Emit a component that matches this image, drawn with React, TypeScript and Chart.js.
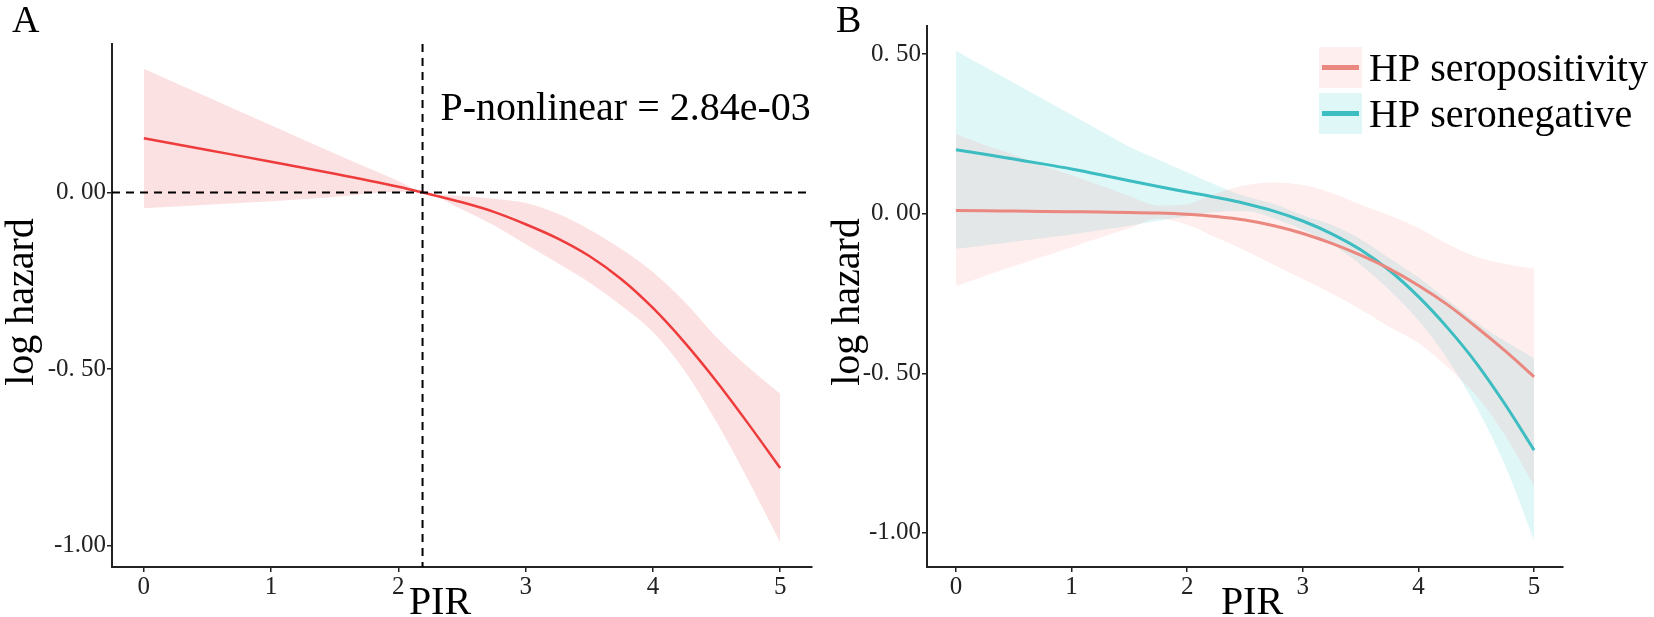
import React, { useEffect, useRef } from 'react';
import { Chart, registerables } from 'chart.js';

Chart.register(...registerables);

// ---- data ----
const pirA = [0, 0.5, 1, 1.5, 2, 2.19, 2.5, 2.75, 3, 3.25, 3.5, 3.75, 4, 4.25, 4.5, 4.75, 5];
const overallLine = [0.153, 0.12, 0.087, 0.053, 0.016, 0, -0.028, -0.055, -0.09, -0.13, -0.18, -0.245, -0.327, -0.425, -0.535, -0.655, -0.78];
const overallUpper = [0.35, 0.27, 0.19, 0.11, 0.032, 0, -0.01, -0.018, -0.03, -0.06, -0.105, -0.16, -0.225, -0.31, -0.41, -0.495, -0.57];
const overallLower = [-0.045, -0.035, -0.025, -0.013, 0.002, 0, -0.048, -0.093, -0.147, -0.2, -0.255, -0.32, -0.395, -0.505, -0.65, -0.815, -0.99];

const pirB = [0, 0.25, 0.5, 0.75, 1, 1.25, 1.5, 1.75, 2, 2.25, 2.5, 2.75, 3, 3.25, 3.5, 3.75, 4, 4.25, 4.5, 4.75, 5];
const posLine = [0.01, 0.009, 0.008, 0.007, 0.006, 0.005, 0.004, 0.002, -0.002, -0.009, -0.02, -0.038, -0.062, -0.093, -0.13, -0.173, -0.225, -0.285, -0.355, -0.43, -0.511];
const posUpper = [0.25, 0.215, 0.185, 0.15, 0.12, 0.088, 0.055, 0.025, 0.03, 0.063, 0.089, 0.098, 0.09, 0.065, 0.028, -0.005, -0.045, -0.095, -0.135, -0.158, -0.172];
const posLower = [-0.227, -0.195, -0.165, -0.135, -0.105, -0.075, -0.045, -0.015, -0.035, -0.075, -0.115, -0.16, -0.205, -0.25, -0.3, -0.355, -0.405, -0.48, -0.57, -0.695, -0.852];
const negLine = [0.2, 0.186, 0.171, 0.156, 0.14, 0.122, 0.103, 0.085, 0.068, 0.051, 0.032, 0.008, -0.023, -0.063, -0.113, -0.178, -0.26, -0.357, -0.468, -0.598, -0.741];
const negUpper = [0.511, 0.46, 0.41, 0.36, 0.31, 0.26, 0.21, 0.17, 0.13, 0.09, 0.055, 0.03, -0.005, -0.035, -0.08, -0.14, -0.2, -0.27, -0.34, -0.4, -0.453];
const negLower = [-0.11, -0.1, -0.088, -0.077, -0.065, -0.052, -0.038, -0.022, -0.008, 0.005, 0.008, -0.015, -0.05, -0.095, -0.16, -0.24, -0.335, -0.455, -0.605, -0.79, -1.024];

const xTicks = [0, 1, 2, 3, 4, 5];
const xTickLabels = ['0', '1', '2', '3', '4', '5'];
const aYTicks = [0, -0.5, -1];
const aYTickLabels = ['0. 00', '-0. 50', '-1.00'];
const bYTicks = [0.5, 0, -0.5, -1];
const bYTickLabels = ['0. 50', '0. 00', '-0. 50', '-1.00'];
const seriesNames = ['HP seropositivity', 'HP seronegative'];
const cutPoint = 2.19;
const pNonlinear = 'P-nonlinear = 2.84e-03';
const xTitle = 'PIR';
const yTitle = 'log hazard';

const serif = '"Liberation Serif", "Times New Roman", serif';
const H = 617;
const lineColors = ['#EA8880', '#3BBDC1'];
const bandColors = ['rgba(248,118,109,0.12)', 'rgba(0,191,196,0.12)'];

const pts = (xs: number[], ys: number[]) => xs.map((x, i) => ({ x, y: ys[i] }));

const lineDs = (data: any, color: string, width: number) => ({
  data, borderColor: color, borderWidth: width, pointRadius: 0, fill: false,
  cubicInterpolationMode: 'monotone',
});
const bandDs = (data: any, color: string | undefined, fill: any) => ({
  data, borderColor: 'transparent', borderWidth: 0, backgroundColor: color ?? 'transparent',
  pointRadius: 0, fill, cubicInterpolationMode: 'monotone',
});

const xScale = (height: number) => ({
  type: 'linear', min: -0.25, max: 5.25,
  afterBuildTicks: (s: any) => { s.ticks = xTicks.map(v => ({ value: v })); },
  afterFit: (s: any) => { s.height = height; },
  ticks: {
    callback: (_v: any, i: number) => xTickLabels[i],
    font: { family: serif, size: 25 }, color: '#222', padding: 0,
    maxRotation: 0, autoSkip: false,
  },
  grid: { display: true, drawOnChartArea: false, drawTicks: true, tickLength: 5, color: '#222', lineWidth: 1.5 },
  border: { display: true, color: '#222', width: 2 },
});

const yScale = (min: number, max: number, ticks: number[], labels: string[], width: number) => ({
  type: 'linear', min, max,
  afterBuildTicks: (s: any) => { s.ticks = ticks.map(v => ({ value: v })); },
  afterFit: (s: any) => { s.width = width; },
  ticks: {
    callback: (_v: any, i: number) => labels[i],
    font: { family: serif, size: 25 }, color: '#222', padding: 1, autoSkip: false,
  },
  grid: { display: true, drawOnChartArea: false, drawTicks: true, tickLength: 5, color: '#222', lineWidth: 1.5 },
  border: { display: true, color: '#222', width: 2 },
});

type Decor = { letter: string; letterX: number; xTitleX: number; yTitleX: number; extra?: (c: Chart) => void };

const decor = (d: Decor) => ({
  id: 'decor',
  afterDraw(chart: Chart) {
    const ctx = chart.ctx;
    ctx.save();
    ctx.fillStyle = '#000';
    ctx.textBaseline = 'alphabetic';
    ctx.textAlign = 'left';
    ctx.font = `38px ${serif}`;
    ctx.fillText(d.letter, d.letterX, 32);
    ctx.font = `40px ${serif}`;
    ctx.textAlign = 'center';
    ctx.fillText(xTitle, d.xTitleX, 614);
    ctx.translate(d.yTitleX, 302);
    ctx.rotate(-Math.PI / 2);
    ctx.textBaseline = 'middle';
    ctx.fillText(yTitle, 0, 0);
    ctx.restore();
    if (d.extra) d.extra(chart);
  },
});

const baseOptions = (padding: any, scales: any) => ({
  responsive: false,
  animation: false,
  events: [],
  layout: { padding },
  plugins: { legend: { display: false }, tooltip: { enabled: false } },
  scales,
});

const buildA = (): any => ({
  type: 'line',
  data: {
    datasets: [
      lineDs(pts(pirA, overallLine), '#EE3B3B', 2.5),
      bandDs(pts(pirA, overallUpper), '#FCE1E2', '+1'),
      bandDs(pts(pirA, overallLower), undefined, false),
    ],
  },
  options: baseOptions({ left: 0, right: 8, top: 44, bottom: 0 }, {
    x: xScale(50),
    y: yScale(-1.06, 0.42, aYTicks, aYTickLabels, 112),
  }),
  plugins: [
    decor({
      letter: 'A', letterX: 12, xTitleX: 440, yTitleX: 22,
      extra: (chart: any) => {
        const { ctx, chartArea: a, scales } = chart;
        const px = scales.x.getPixelForValue(cutPoint);
        const py = scales.y.getPixelForValue(0);
        ctx.save();
        ctx.strokeStyle = '#000';
        ctx.lineWidth = 2;
        ctx.setLineDash([8, 6]);
        ctx.beginPath();
        ctx.moveTo(a.left, py); ctx.lineTo(a.right, py);
        ctx.moveTo(px, a.top); ctx.lineTo(px, a.bottom);
        ctx.stroke();
        ctx.setLineDash([]);
        ctx.fillStyle = '#000';
        ctx.font = `40px ${serif}`;
        ctx.textAlign = 'left';
        ctx.textBaseline = 'alphabetic';
        ctx.fillText(pNonlinear, px + 18, 120);
        ctx.restore();
      },
    }),
  ],
});

const buildB = (): any => ({
  type: 'line',
  data: {
    datasets: [
      lineDs(pts(pirB, posLine), lineColors[0], 3),
      lineDs(pts(pirB, negLine), lineColors[1], 3),
      bandDs(pts(pirB, posUpper), bandColors[0], '+1'),
      bandDs(pts(pirB, posLower), undefined, false),
      bandDs(pts(pirB, negUpper), bandColors[1], '+1'),
      bandDs(pts(pirB, negLower), undefined, false),
    ],
  },
  options: baseOptions({ left: 0, right: 91, top: 26, bottom: 0 }, {
    x: xScale(50),
    y: yScale(-1.107, 0.588, bYTicks, bYTickLabels, 107),
  }),
  plugins: [
    decor({
      letter: 'B', letterX: 16, xTitleX: 432, yTitleX: 28,
      extra: (chart: any) => {
        const ctx = chart.ctx;
        ctx.save();
        seriesNames.forEach((name, i) => {
          const top = 47 + i * 46;
          ctx.fillStyle = bandColors[i];
          ctx.fillRect(499, top, 43, 41);
          ctx.strokeStyle = lineColors[i];
          ctx.lineWidth = 5;
          ctx.beginPath();
          ctx.moveTo(502, top + 20.5);
          ctx.lineTo(539, top + 20.5);
          ctx.stroke();
          ctx.fillStyle = '#000';
          ctx.font = `40px ${serif}`;
          ctx.textAlign = 'left';
          ctx.textBaseline = 'alphabetic';
          ctx.fillText(name, 549, top + 34);
        });
        ctx.restore();
      },
    }),
  ],
});

const Panel: React.FC<{ left: number; width: number; build: () => any }> = ({ left, width, build }) => {
  const canvasRef = useRef<HTMLCanvasElement>(null);
  useEffect(() => {
    if (!canvasRef.current) return;
    const chart = new Chart(canvasRef.current, build());
    return () => chart.destroy();
  }, []);
  return (
    <div style={{ position: 'absolute', left, top: 0, width, height: H }}>
      <canvas ref={canvasRef} width={width} height={H} style={{ width, height: H, display: 'block' }} />
    </div>
  );
};

const App: React.FC = () => (
  <div style={{ position: 'absolute', left: 0, top: 0, width: 1654, height: H, background: '#fff', overflow: 'hidden' }}>
    <Panel left={0} width={820} build={buildA} />
    <Panel left={820} width={834} build={buildB} />
  </div>
);

export default App;
